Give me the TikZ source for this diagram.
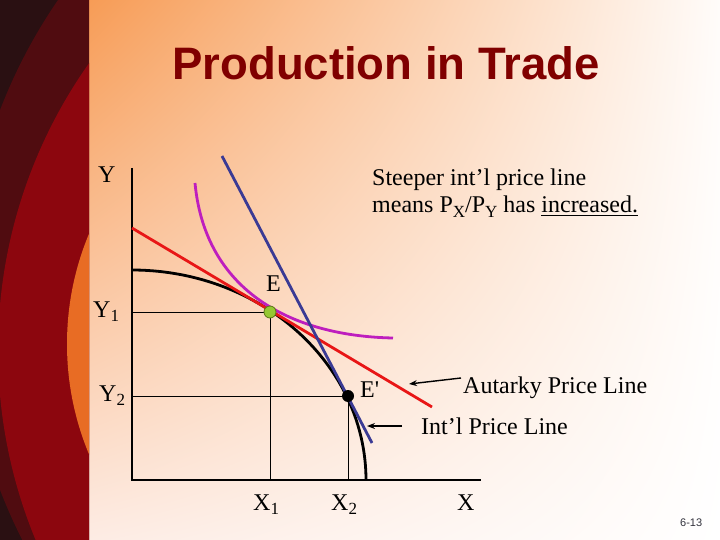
\documentclass[tikz,border=0pt]{standalone}
\usepackage{fontspec}
\setmainfont{Liberation Serif}
\newfontfamily\titlefont{Liberation Sans}
\usetikzlibrary{arrows.meta,shadings}
\definecolor{bgorange}{RGB}{247,156,86}
\definecolor{bgpeach}{RGB}{253,236,228}
\definecolor{bgwhite}{RGB}{255,252,250}
\definecolor{stripdark}{RGB}{42,16,18}
\definecolor{stripmid}{RGB}{80,12,16}
\definecolor{stripred}{RGB}{140,6,14}
\definecolor{striporange}{RGB}{232,108,36}
\definecolor{titlered}{RGB}{128,0,0}
\definecolor{autarkyred}{RGB}{232,22,22}
\definecolor{intlblue}{RGB}{58,58,148}
\definecolor{indiffmag}{RGB}{190,30,190}
\definecolor{dotgreen}{RGB}{150,200,50}
\definecolor{dotedge}{RGB}{90,120,20}
\definecolor{pagenum}{RGB}{50,50,60}
\newcommand\mysub[1]{\raisebox{-4.5pt}{\fontsize{17}{19}\selectfont #1}}
\tikzset{
  lbl/.style={inner sep=0pt, anchor=base west, font=\fontsize{24}{28}\selectfont},
  axisline/.style={line width=1.3pt},
  guide/.style={line width=0.9pt},
  ppfcurve/.style={line width=2.8pt},
  autarky/.style={line width=2.8pt, draw=autarkyred},
  intl/.style={line width=2.8pt, draw=intlblue},
  indiff/.style={line width=2.8pt, draw=indiffmag},
  pointer/.style={line width=1.4pt, -{Stealth[length=8pt,width=6pt]}},
  dotA/.style={circle, minimum size=12pt, inner sep=0pt, fill=dotgreen, draw=dotedge, line width=0.8pt},
  dotB/.style={circle, minimum size=12pt, inner sep=0pt, fill=black}
}
\begin{document}
\begin{tikzpicture}[x=1pt,y=-1pt]
\useasboundingbox (0,0) rectangle (720,540);
% background
\shade[upper left=bgorange, upper right=bgwhite, lower left=bgpeach, lower right=white] (89,0) rectangle (720,540);
\begin{scope}
  \clip (0,0) rectangle (89,540);
  \fill[stripdark] (0,0) rectangle (89,540);
  \fill[stripmid] (495,300) circle[radius=530];
  \fill[stripred] (495,350) circle[radius=497];
  \fill[striporange] (353,344) circle[radius=286];
\end{scope}
% title
\node[inner sep=0pt, anchor=base, text=titlered, font=\titlefont\bfseries\fontsize{45.5}{50}\selectfont] (title) at (386,80) {Production in Trade};
% axes
\coordinate (Ytop) at (132,168);
\coordinate (O) at (132,480);
\coordinate (Xend) at (481,480);
\draw[axisline] (Ytop) -- (O) -- (Xend);
% key points
\coordinate (Epos) at (270,312);
\coordinate (Eppos) at (348,396);
\coordinate (Y1pt) at (132,312);
\coordinate (Y2pt) at (132,396);
\coordinate (X1pt) at (270,480);
\coordinate (X2pt) at (348,480);
\draw[guide] (Y1pt) -| (X1pt);
\draw[guide] (Y2pt) -| (X2pt);
% PPF
\draw[ppfcurve] plot[domain=0:90, samples=90, smooth] ({132+234*cos(\x)}, {480-210*sin(\x)});
% autarky price line
\coordinate (A1) at (132,228);
\coordinate (A2) at (432,407);
\draw[autarky] (A1) -- (A2);
% indifference curve
\coordinate (I1) at (195,183);
\coordinate (I2) at (393,338);
\draw[indiff] (I1) .. controls (205,290) and (290,336) .. (I2);
% international price line
\coordinate (B1) at (222,156);
\coordinate (B2) at (372,443);
\draw[intl] (B1) -- (B2);
% points
\node[dotA] (E) at (Epos) {};
\node[dotB] (Ep) at (Eppos) {};
% labels
\node[lbl] (Ylab) at (98,183) {Y};
\node[lbl] (Y1lab) at (93,317) {Y\mysub{1}};
\node[lbl] (Y2lab) at (99,401) {Y\mysub{2}};
\node[lbl] (X1lab) at (253,510) {X\mysub{1}};
\node[lbl] (X2lab) at (331,510) {X\mysub{2}};
\node[lbl] (Xlab) at (457,510) {X};
\node[lbl] (Elab) at (266,291) {E};
\node[lbl] (Eplab) at (360,397) {E\textquotesingle};
\node[lbl, align=left] (note) at (372,213) {Steeper int’l price line\\means P\mysub{X}/P\mysub{Y} has \underline{increased.}};
\node[lbl] (autlab) at (463,393) {Autarky Price Line};
\node[lbl] (intlab) at (421,434) {Int’l Price Line};
\node[inner sep=0pt, anchor=base west, text=pagenum, font=\titlefont\fontsize{11}{13}\selectfont] (pg) at (680,526) {6-13};
% pointers
\coordinate (autTail) at (461,378);
\coordinate (autTip) at (409,384);
\coordinate (intTail) at (402,426);
\coordinate (intTip) at (367,426);
\draw[pointer] (autTail) -- (autTip);
\draw[pointer] (intTail) -- (intTip);
\end{tikzpicture}
\end{document}
